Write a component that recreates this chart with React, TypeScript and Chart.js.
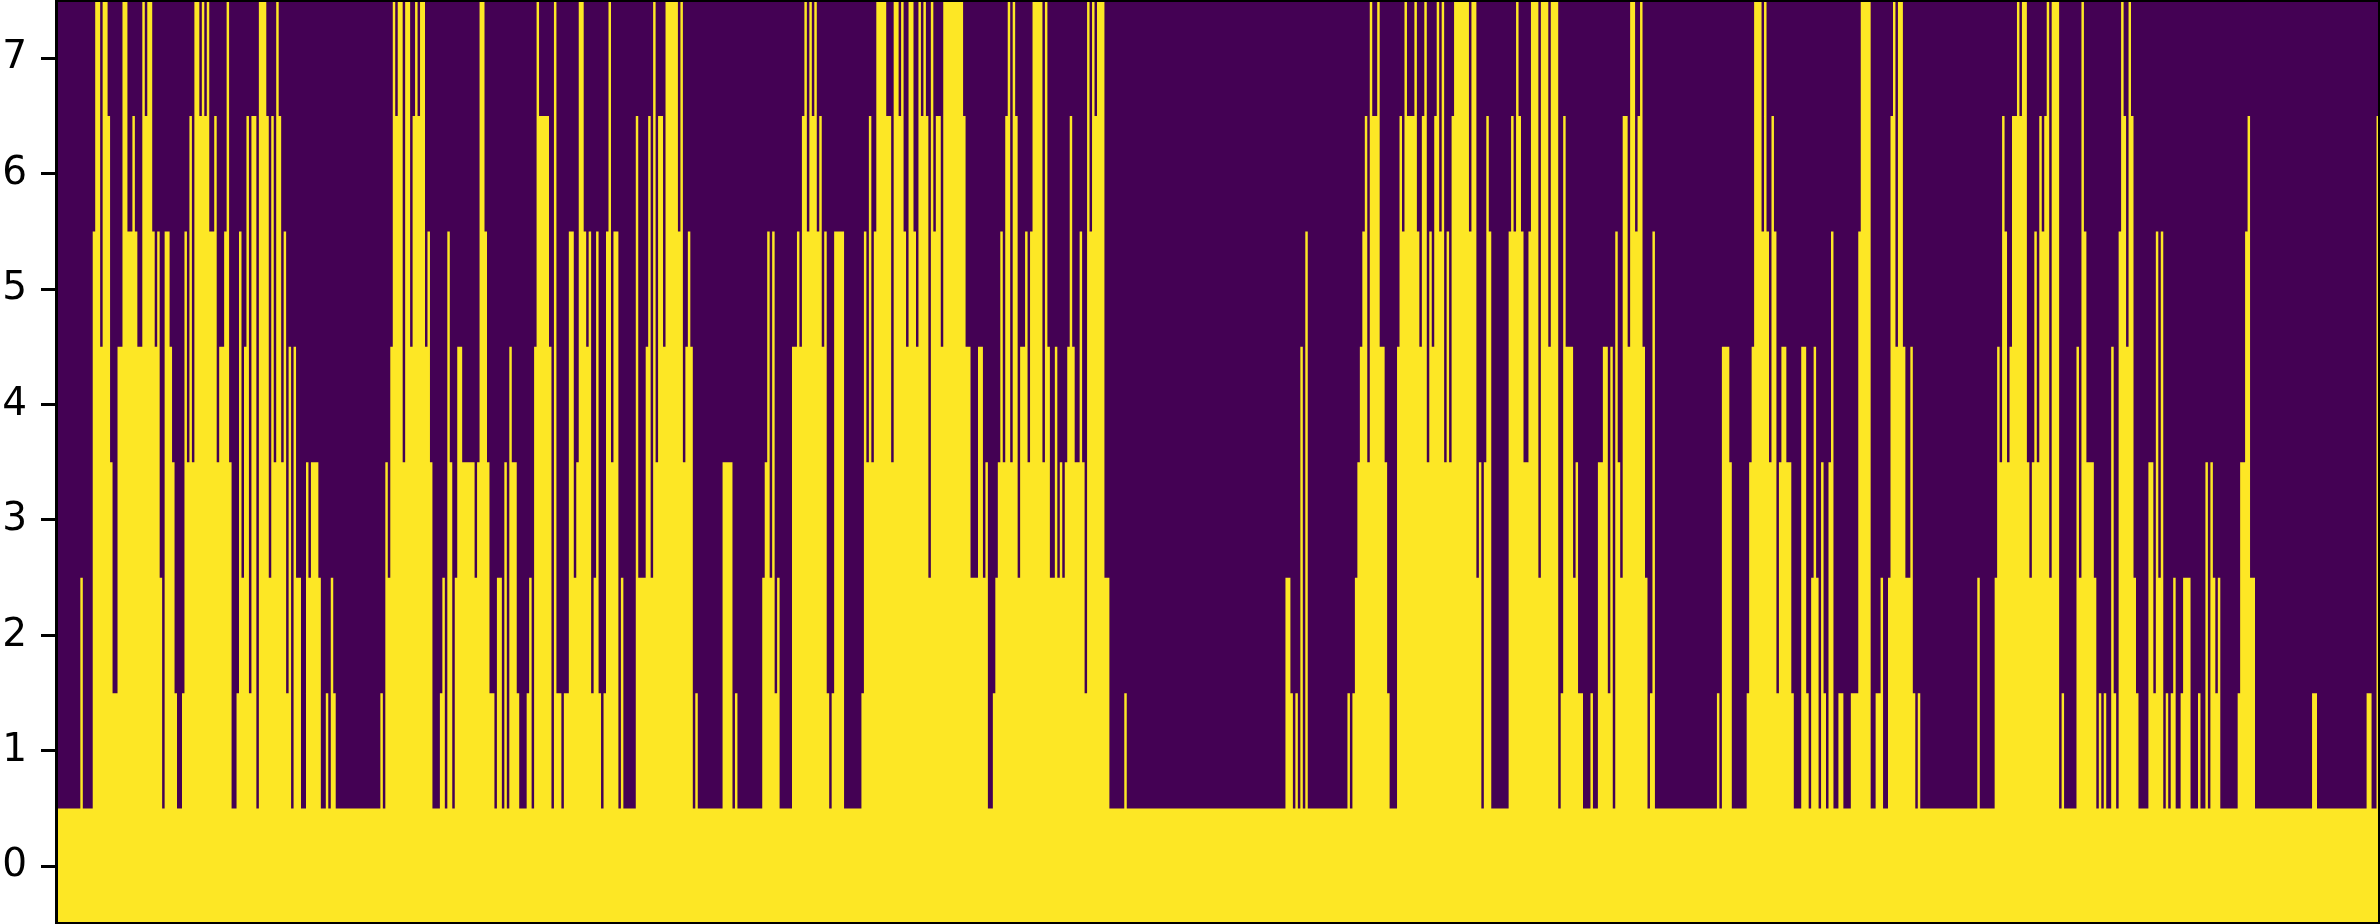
import React, { useEffect, useRef } from "react";
import { Chart, registerables } from "chart.js";

Chart.register(...registerables);

// Highest filled row of each run of columns, and how many columns the run spans.
const topsA = [0,2,0,5,7,4,7,6,3,1,4,7,5,6,5,4,7,6,7,5,4,5,2,0,5,4,3,1,0,1,5,3,6,3,7,6,7,6,7,5,6,3,4,5,7,3,0,1,5,2,4,6,1];
const spanA = [9,1,4,1,2,1,2,1,1,2,2,2,2,1,1,2,1,1,2,1,1,1,1,1,2,1,1,1,2,1,1,1,1,1,2,1,1,1,1,2,1,1,2,1,1,1,2,1,1,1,1,1,1];
const topsB = [6,0,7,6,2,6,3,7,6,3,5,1,4,0,4,2,0,3,2,3,2,0,1,0,2,1,0,1,0,3,2,4,7,6,7,3,7,4,6,7,6,7,4,5,3,0,1,2,0,5];
const spanB = [2,1,3,1,1,1,1,1,1,1,1,1,1,1,1,2,2,1,1,3,1,2,1,1,1,1,18,1,1,1,1,1,1,1,2,1,2,1,1,1,1,2,1,1,1,3,1,1,1,1];
const topsC = [3,0,2,4,3,2,3,7,5,3,1,0,2,0,3,0,4,3,1,0,1,2,0,4,7,6,4,0,7,1,0,1,5,2,3,7,5,4,5,1,2,5,1,0,1,5,7,3,5,0,2,0,6,2,4,6];
const spanC = [1,1,1,2,5,1,1,2,1,1,2,1,2,1,1,1,1,2,1,3,1,1,1,1,1,4,1,1,1,2,1,2,2,1,1,2,1,1,1,1,1,1,1,1,1,1,1,1,2,1,1,5,1,3,1,1];
const topsD = [2,7,3,6,4,7,5,7,3,4,5,4,0,1,0,3,0,1,0,2,3,5,2,5,1,2,0,4,5,4,6,7,5,7,6,7,5,6,4,5,1,0,1,5,0];
const spanD = [1,1,1,2,1,5,1,1,1,1,1,1,1,1,10,4,1,1,10,1,1,1,1,1,1,1,5,2,1,1,1,1,1,1,1,1,1,1,1,1,1,1,1,4,7];
const topsE = [1,5,3,6,3,5,7,6,3,7,6,7,5,4,7,5,4,7,6,7,6,2,7,5,6,4,7,6,4,2,4,2,3,0,1,2,3,5,3,6,7,3,7,6,2,4,5,3,5,7,3,7,4];
const spanE = [1,1,1,1,1,1,4,2,1,2,1,1,1,1,2,1,1,1,1,1,1,1,1,1,2,1,8,1,2,3,2,1,1,2,1,1,1,1,1,1,1,1,1,1,1,2,1,1,1,4,1,1,1];
const topsF = [2,4,2,3,2,3,4,6,4,3,5,3,1,7,5,7,6,7,2,0,1,0];
const spanF = [2,1,1,1,1,1,1,1,1,2,1,1,1,1,1,1,1,3,2,6,1,64];
const topsG = [2,1,0,1,0,4,0,5,0,1,0,1,2,3,4,5,6,3,7,6,7,4,3,1,0,4,6,5,7,6,7,5,4,6,7,3,5,4,6,7,5,7,3,5,3,6,7,5,7,2,3];
const spanG = [2,1,1,1,1,1,1,1,16,1,1,1,1,1,1,1,1,1,1,2,1,2,1,1,3,1,1,1,1,3,1,1,1,1,1,1,1,1,1,1,1,1,1,1,1,1,6,1,2,1,1];
const topsH = [0,3,6,5,0,5,6,5,7,6,5,3,5,7,2,7,4,7,0,1,6,4,2,3,1,0,1,0,3,4,1,4,0,5,3,2,6,4,7,5,6,7,4,2,0,1,5,0];
const spanH = [1,1,1,1,7,1,1,1,1,1,1,2,1,3,1,3,1,3,1,1,1,3,1,1,2,3,1,2,2,2,1,1,1,1,1,1,2,1,2,1,1,1,1,1,1,1,1,25];
const topsI = [1,0,4,3,0,1,3,4,7,5,7,5,3,6,5,1,3,4,3,1,0,4,1,0,2,4,2,0,3,1,0,3,5,0,1,0,1,5,7,0,1,2,0,2,6,7,4,7,4,2,4,1,0,1,0];
const spanI = [1,1,3,1,6,1,1,1,3,1,1,1,1,1,1,1,1,2,2,1,3,2,1,1,1,1,1,1,1,1,1,1,1,2,2,3,3,1,4,2,2,1,2,1,1,1,1,2,1,2,1,1,1,1,23];
const topsJ = [2,0,2,4,3,6,5,3,4,6,7,6,7,3,2,3,5,3,6,5,6,7,2,7,0,1,0,4,2,7,5,3,2,0,1,0,1,0,4,1,0,5,7,6,4,7,6,2,1,0,3,1,5,2];
const spanJ = [1,6,1,1,1,1,1,1,1,2,1,1,2,1,1,1,1,1,1,1,1,1,1,3,1,1,5,1,1,1,1,3,1,1,1,1,1,2,1,1,1,1,1,1,1,1,1,1,1,4,2,1,1,1];
const topsK = [5,0,1,0,1,2,0,1,2,0,1,0,3,0,3,2,1,2,0,1,3,5,6,2,0,1,0,1,0,6];
const spanK = [1,1,1,1,1,1,2,1,3,3,1,2,1,1,1,1,1,1,7,1,2,1,1,2,23,2,20,2,2,1];

const yTickValues = [0, 1, 2, 3, 4, 5, 6, 7];
const yAxisRange = [-0.5, 7.5];

const columnTops = [topsA, topsB, topsC, topsD, topsE, topsF, topsG, topsH, topsI, topsJ, topsK].flat();
const columnSpans = [spanA, spanB, spanC, spanD, spanE, spanF, spanG, spanH, spanI, spanJ, spanK].flat();

const PURPLE = "#440154";
const YELLOW = "#fde725";

function buildPoints() {
  const pts: { x: number; y: number }[] = [];
  let col = 0;
  columnTops.forEach((top, i) => {
    pts.push({ x: col, y: top + 0.5 });
    col += columnSpans[i];
  });
  pts.push({ x: col, y: columnTops[columnTops.length - 1] + 0.5 });
  return { pts, total: col };
}

const framePlugin = {
  id: "frame",
  beforeDraw(chart: any) {
    const { ctx, chartArea: a } = chart;
    ctx.save();
    ctx.fillStyle = "#ffffff";
    ctx.fillRect(0, 0, chart.width, chart.height);
    ctx.fillStyle = PURPLE;
    ctx.fillRect(a.left, a.top, a.right - a.left, a.bottom - a.top);
    ctx.restore();
  },
  afterDraw(chart: any) {
    const { ctx } = chart;
    const a = chart.chartArea;
    ctx.save();
    ctx.strokeStyle = "#000000";
    ctx.lineWidth = 3;
    ctx.strokeRect(a.left - 1.5, 0.5, a.right - a.left + 2, 923);
    ctx.restore();
  },
};

export default function App() {
  const ref = useRef<HTMLCanvasElement>(null);
  useEffect(() => {
    if (!ref.current) return;
    const { pts, total } = buildPoints();
    const chart = new Chart(ref.current, {
      type: "line",
      data: {
        datasets: [
          {
            data: pts,
            stepped: true,
            fill: "start",
            backgroundColor: YELLOW,
            borderWidth: 0,
            pointRadius: 0,
          } as any,
        ],
      },
      options: {
        animation: false,
        responsive: false,
        devicePixelRatio: 1,
        layout: { padding: { top: 0.5, right: 1, bottom: 0, left: 0 } },
        plugins: { legend: { display: false }, tooltip: { enabled: false } },
        scales: {
          x: { type: "linear", min: 0, max: total, display: false },
          y: {
            type: "linear",
            min: yAxisRange[0],
            max: yAxisRange[1],
            afterBuildTicks: (s: any) => {
              s.ticks = yTickValues.map((value) => ({ value }));
            },
            afterFit: (s: any) => {
              s.width = 58;
              s.paddingTop = 0;
              s.paddingBottom = 0;
            },
            grid: {
              drawOnChartArea: false,
              drawTicks: true,
              tickLength: 17,
              tickWidth: 3,
              tickColor: "#000000",
            },
            border: { display: false },
            ticks: {
              autoSkip: false,
              padding: 14,
              color: "#000000",
              font: { family: "DejaVu Sans", size: 39 },
              callback: (v: any) => String(v),
            },
          },
        },
      } as any,
      plugins: [framePlugin],
    });
    return () => chart.destroy();
  }, []);
  return (
    <canvas
      ref={ref}
      width={2380}
      height={924}
      style={{ position: "absolute", left: 0, top: 0, width: 2380, height: 924 }}
    />
  );
}
